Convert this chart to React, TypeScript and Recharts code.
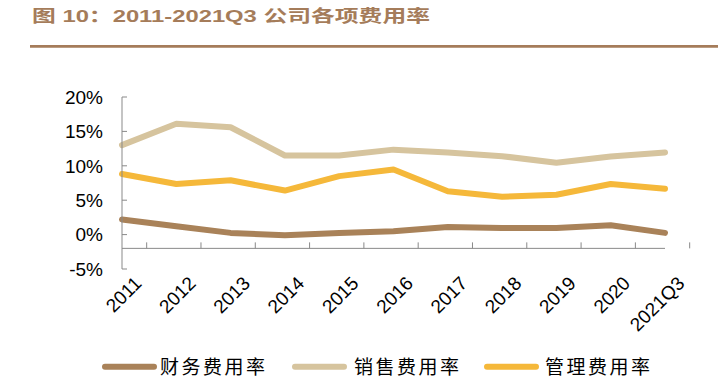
import React from 'react';
import { LineChart, Line, XAxis, YAxis, ReferenceLine } from 'recharts';

const categories = ['2011', '2012', '2013', '2014', '2015', '2016', '2017', '2018', '2019', '2020', '2021Q3'];
const financeRate = [2.2, 1.2, 0.25, -0.1, 0.25, 0.5, 1.1, 0.95, 0.95, 1.35, 0.25];
const salesRate = [13.0, 16.1, 15.6, 11.5, 11.5, 12.35, 11.95, 11.4, 10.45, 11.35, 11.95];
const adminRate = [8.8, 7.35, 7.9, 6.4, 8.5, 9.45, 6.3, 5.5, 5.8, 7.35, 6.65];
const yTicks = [-5, 0, 5, 10, 15, 20];
const seriesNames = ['财务费用率', '销售费用率', '管理费用率'];
const title = '图 10：2011-2021Q3 公司各项费用率';

const COLORS = ['#a98259', '#d6c49e', '#f5b83a'];
const AXIS = '#898989';
const W = 718;
const H = 387;
const M = { top: 97, right: 53, left: 0, bottom: 0 };
const Y_AXIS_W = 122;
const X_AXIS_H = 118;
const PLOT_W = W - M.left - M.right - Y_AXIS_W;
const PLOT_H = H - M.top - M.bottom - X_AXIS_H;
const Y_MIN = -5;
const Y_MAX = 20;
const CROSS = -2;
const BAND = PLOT_W / categories.length;

const data = categories.map((c, i) => ({
  year: c,
  finance: financeRate[i],
  sales: salesRate[i],
  admin: adminRate[i],
}));

const XTick = (props: any) => {
  const { x, y, payload } = props;
  const axisY = y - ((CROSS - Y_MIN) / (Y_MAX - Y_MIN)) * PLOT_H;
  const bx = x + BAND / 2;
  const ax = x + 11;
  const ay = y + 6;
  return (
    <g>
      <line x1={bx} x2={bx} y1={axisY} y2={axisY - 6} stroke={AXIS} strokeWidth={1} />
      <text
        x={ax}
        y={ay}
        textAnchor="end"
        dominantBaseline="hanging"
        transform={`rotate(-45, ${ax}, ${ay})`}
        fontSize={19}
        fontFamily="Arial, 'Liberation Sans', sans-serif"
        fill="#000"
      >
        {payload.value}
      </text>
    </g>
  );
};

const legendItems = [
  { x: 102, tx: 160, name: seriesNames[0], color: COLORS[0] },
  { x: 292, tx: 354, name: seriesNames[1], color: COLORS[1] },
  { x: 484, tx: 545, name: seriesNames[2], color: COLORS[2] },
];

export default function App() {
  return (
    <div style={{ position: 'absolute', left: 0, top: 0, width: W, height: H, background: '#fff' }}>
      <svg width={W} height={H} style={{ position: 'absolute', left: 0, top: 0 }}>
        <text
          x={32}
          y={22}
          fontSize={17}
          fontWeight="bold"
          fill="#a57c5a"
          fontFamily="Arial, 'Liberation Sans', 'Noto Sans CJK SC', sans-serif"
          textLength={398}
          lengthAdjust="spacingAndGlyphs"
        >
          {title}
        </text>
        <line x1={30} x2={W} y1={46.3} y2={46.3} stroke="#a57c5a" strokeWidth={2.7} />
        {legendItems.map((l) => (
          <g key={l.name}>
            <line x1={l.x + 3} x2={l.x + 52} y1={366.7} y2={366.7} stroke={l.color} strokeWidth={6} strokeLinecap="round" />
            <text
              x={l.tx}
              y={374}
              fontSize={19}
              fill="#000"
              fontFamily="'Noto Sans CJK SC', sans-serif"
              textLength={105}
              lengthAdjust="spacing"
            >
              {l.name}
            </text>
          </g>
        ))}
      </svg>
      <div style={{ position: 'absolute', left: 0, top: 0 }}>
        <LineChart width={W} height={H} data={data} margin={M}>
          <XAxis
            dataKey="year"
            height={X_AXIS_H}
            axisLine={false}
            tickLine={false}
            tickSize={0}
            tickMargin={0}
            interval={0}
            tick={<XTick />}
          />
          <YAxis
            width={Y_AXIS_W}
            domain={[Y_MIN, Y_MAX]}
            ticks={yTicks}
            interval={0}
            tickFormatter={(v: number) => `${v}%`}
            axisLine={{ stroke: AXIS, strokeWidth: 1 }}
            tickLine={{ stroke: AXIS, strokeWidth: 1 }}
            tickSize={-5}
            tickMargin={24}
            tick={{ fontSize: 19, fill: '#000', fontFamily: "Arial, 'Liberation Sans', sans-serif" }}
          />
          <ReferenceLine y={CROSS} stroke={AXIS} strokeWidth={1} />
          <Line dataKey="finance" name={seriesNames[0]} stroke={COLORS[0]} strokeWidth={6} dot={false} strokeLinecap="round" strokeLinejoin="round" isAnimationActive={false} />
          <Line dataKey="sales" name={seriesNames[1]} stroke={COLORS[1]} strokeWidth={6} dot={false} strokeLinecap="round" strokeLinejoin="round" isAnimationActive={false} />
          <Line dataKey="admin" name={seriesNames[2]} stroke={COLORS[2]} strokeWidth={6} dot={false} strokeLinecap="round" strokeLinejoin="round" isAnimationActive={false} />
        </LineChart>
      </div>
    </div>
  );
}
